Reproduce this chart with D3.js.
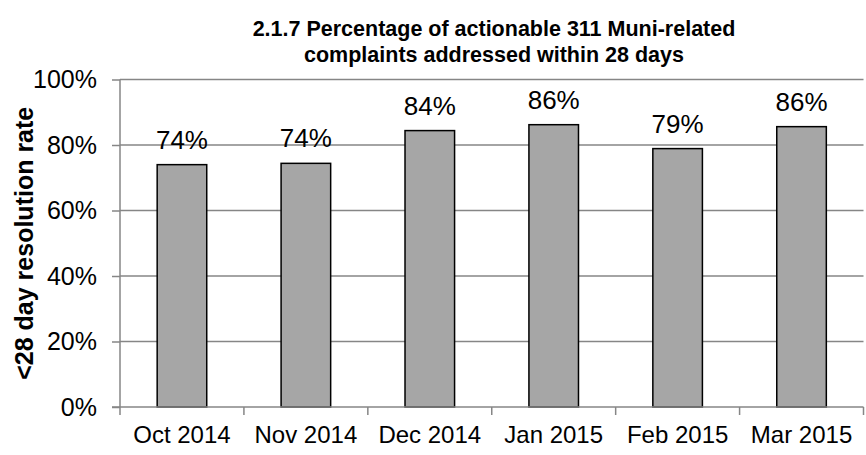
<!DOCTYPE html>
<html><head><meta charset="utf-8">
<script src="https://cdn.jsdelivr.net/npm/d3@7"></script>
<style>body{margin:0;background:#fff}svg{display:block}text{font-family:"Liberation Sans",Arial,sans-serif}</style>
</head><body><svg id="c" width="866" height="455"></svg>
<script>
const categories = ["Oct 2014","Nov 2014","Dec 2014","Jan 2015","Feb 2015","Mar 2015"];
const values = [0.740, 0.744, 0.844, 0.862, 0.789, 0.856];
const labels = ["74%","74%","84%","86%","79%","86%"];
const yTicks = [0,0.2,0.4,0.6,0.8,1.0];
const titleLines = ["2.1.7 Percentage of actionable 311 Muni-related","complaints addressed within 28 days"];
const yTitle = "<28 day resolution rate";

const svg = d3.select("#c");
const m = {l:120, r:866-863.5, t:79.5, b:455-407};
const W = 866, H = 455;
const x = d3.scaleBand().domain(categories).range([m.l, W-m.r]).paddingInner(0.6).paddingOuter(0.3);
const y = d3.scaleLinear().domain([0,1]).range([H-m.b, m.t]);
const gray = "#868686";

// gridlines
svg.append("g").selectAll("line").data(yTicks.filter(d=>d>0)).join("line")
  .attr("x1", m.l).attr("x2", W-m.r).attr("y1", d=>y(d)).attr("y2", d=>y(d))
  .attr("stroke", gray).attr("stroke-width", 1.5);

// y axis
const ya = svg.append("g").attr("transform",`translate(${m.l},0)`)
  .call(d3.axisLeft(y).tickValues(yTicks).tickFormat(d3.format(".0%")).tickSize(8).tickPadding(15));
ya.select(".domain").attr("stroke", gray).attr("stroke-width",1.5).attr("d", `M0,${y(0)}V${y(1)}`);
ya.selectAll(".tick line").attr("stroke", gray).attr("stroke-width",1.5);
ya.selectAll(".tick text").attr("font-size", 25).attr("fill","#000").attr("font-family",'"Liberation Sans",Arial,sans-serif');

// bars
svg.append("g").selectAll("rect").data(values).join("rect")
  .attr("x", (d,i)=>x(categories[i])).attr("width", x.bandwidth())
  .attr("y", d=>y(d)).attr("height", d=>y(0)-y(d))
  .attr("fill","#a6a6a6").attr("stroke","#000").attr("stroke-width",1.5);

// x axis
const xa = svg.append("g").attr("transform",`translate(0,${y(0)})`);
xa.append("line").attr("x1", m.l-8).attr("x2", W-m.r).attr("stroke", gray).attr("stroke-width",1.5);
const bounds = d3.range(categories.length+1).map(i=>m.l + i*((W-m.r-m.l)/categories.length));
xa.selectAll("line.t").data(bounds).join("line").attr("class","t")
  .attr("x1",d=>d).attr("x2",d=>d).attr("y1",0).attr("y2",8).attr("stroke",gray).attr("stroke-width",1.5);
xa.selectAll("text").data(categories).join("text")
  .attr("x", d=>x(d)+x.bandwidth()/2).attr("y", 36).attr("text-anchor","middle")
  .attr("font-size",24).attr("fill","#000").text(d=>d);

// data labels
svg.append("g").selectAll("text").data(values).join("text")
  .attr("x", (d,i)=>x(categories[i])+x.bandwidth()/2).attr("y", d=>y(d)-16)
  .attr("text-anchor","middle").attr("font-size",26).attr("fill","#000")
  .text((d,i)=>labels[i]);

// title
svg.append("g").selectAll("text").data(titleLines).join("text")
  .attr("x", 494).attr("y",(d,i)=>36+i*26).attr("text-anchor","middle")
  .attr("font-size",21.5).attr("font-weight","bold").attr("fill","#000").text(d=>d);

// y title
svg.append("text").attr("transform",`translate(33,${(y(0)+y(1))/2}) rotate(-90)`)
  .attr("text-anchor","middle").attr("font-size",25).attr("font-weight","bold").attr("fill","#000").text(yTitle);
</script></body></html>
